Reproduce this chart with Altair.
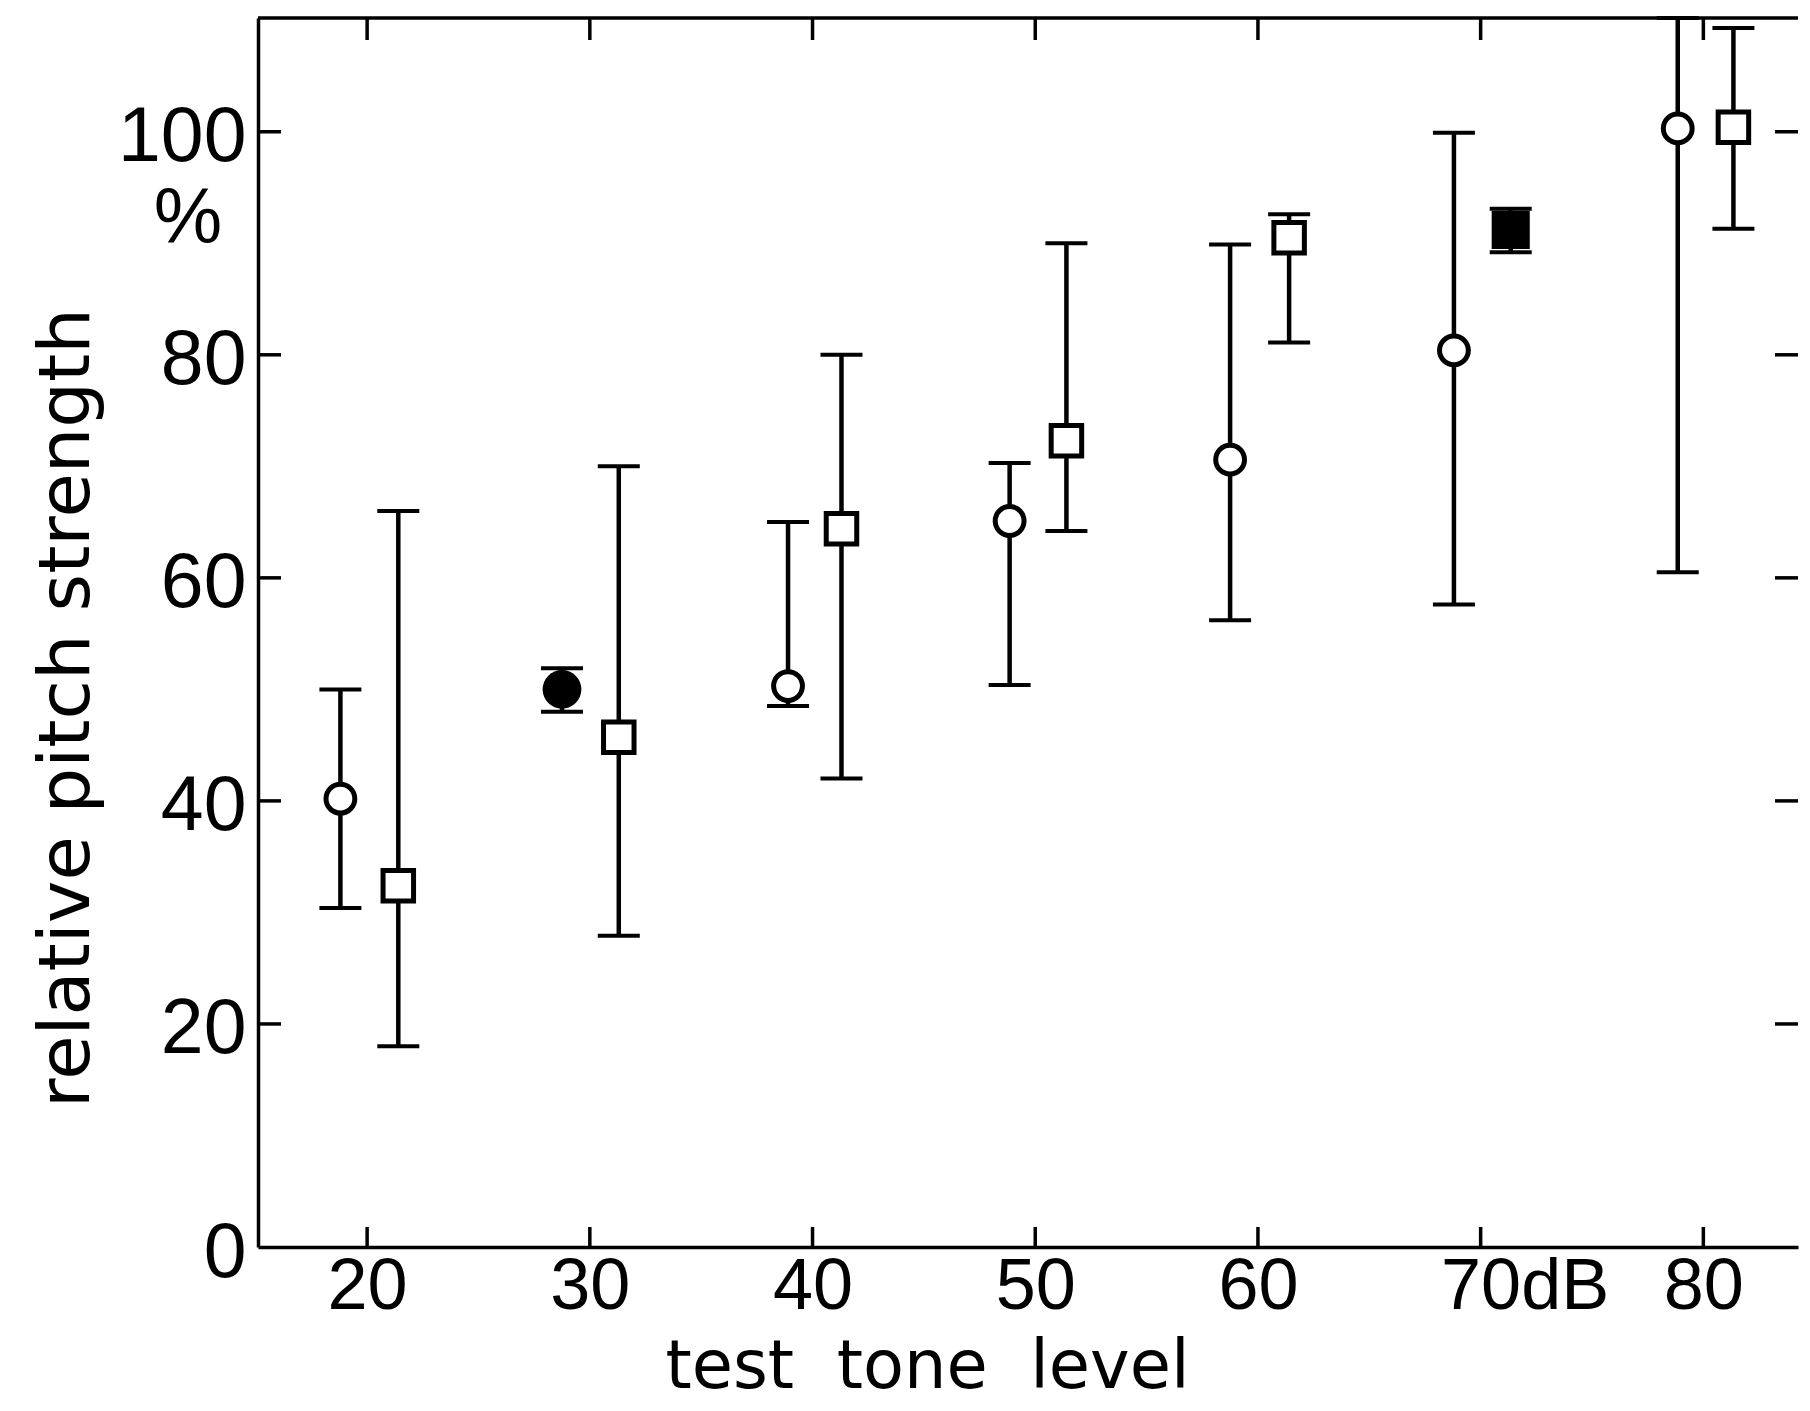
import altair as alt
import pandas as pd

# ---- data ----
# open circles
oc_level = [18.8, 38.9, 48.85, 58.75, 68.8, 78.85]
oc_value = [40.2, 50.3, 65.1, 70.6, 80.4, 100.3]
oc_lo = [30.4, 48.5, 50.4, 56.2, 57.6, 60.5]
oc_hi = [50.0, 65.0, 70.3, 89.9, 99.9, 110.2]
# open squares
os_level = [21.4, 31.3, 41.3, 51.4, 61.4, 81.35]
os_value = [32.4, 45.7, 64.4, 72.3, 90.5, 100.4]
os_lo = [18.0, 27.9, 42.0, 64.2, 81.1, 91.3]
os_hi = [66.0, 70.0, 80.0, 90.0, 92.6, 109.3]
# filled circle
fc_level = [28.75]
fc_value = [50.0]
fc_lo = [48.0]
fc_hi = [51.9]
# filled square
fs_level = [71.35]
fs_value = [91.2]
fs_lo = [89.2]
fs_hi = [93.1]

x_tick_values = [20, 30, 40, 50, 60, 70, 80]
y_tick_values = [0, 20, 40, 60, 80, 100]
y_inner_ticks = [20, 40, 60, 80, 100]
pct_text = ["%"]
pct_pos = [90]

W, H = 1540, 1229
BLACK = "#000000"
LABEL_FONT = "Liberation Sans"
TITLE_FONT = "DejaVu Sans"

def frame(level, value, lo, hi):
    return pd.DataFrame({"level": level, "value": value, "lo": lo, "hi": hi})

oc = frame(oc_level, oc_value, oc_lo, oc_hi)
osq = frame(os_level, os_value, os_lo, os_hi)
fc = frame(fc_level, fc_value, fc_lo, fc_hi)
fsq = frame(fs_level, fs_value, fs_lo, fs_hi)
bars = pd.concat([oc, osq, fc, fsq], ignore_index=True)

x_scale = alt.Scale(domain=[15.1, 84.25], nice=False, zero=False)
y_scale = alt.Scale(domain=[0, 110.2], nice=False, zero=False)

X_TITLE = "test\u00a0\u00a0tone\u00a0\u00a0level"
Y_TITLE = "relative pitch strength"

x_axis = alt.Axis(
    values=x_tick_values,
    labelExpr="datum.value == 70 ? '70dB' : datum.label",
    labelOffset={"condition": {"test": "datum.value == 70", "value": 44}, "value": 0},
    ticks=False, tickSize=0, grid=False,
    domain=True, domainColor=BLACK, domainWidth=3.5,
    labelFont=LABEL_FONT, labelFontSize=72, labelColor=BLACK, labelPadding=4,
    labelFlush=False, labelOverlap=False,
    title=X_TITLE, titleFont=TITLE_FONT, titleFontSize=67, titleFontWeight="normal",
    titleColor=BLACK, titleX=669, titleY=140, titleBaseline="alphabetic", titleAlign="center",
)
y_axis = alt.Axis(
    values=y_tick_values,
    ticks=False, tickSize=0, grid=False,
    domain=True, domainColor=BLACK, domainWidth=3.5,
    labelFont=LABEL_FONT, labelFontSize=77, labelColor=BLACK, labelPadding=12,
    labelBaseline="alphabetic", labelOffset=29, labelFlush=False, labelOverlap=False,
    title=Y_TITLE, titleFont=TITLE_FONT, titleFontSize=72, titleFontWeight="normal",
    titleColor=BLACK, titleAngle=270, titleX=-170, titleY=689.5,
    titleBaseline="alphabetic", titleAlign="center",
)

def X(field):
    return alt.X(field, type="quantitative", scale=x_scale, axis=x_axis, title=X_TITLE)

def Y(field):
    return alt.Y(field, type="quantitative", scale=y_scale, axis=y_axis, title=Y_TITLE)

err = alt.Chart(bars).mark_rule(color=BLACK, strokeWidth=4.5).encode(
    x=X("level"), y=Y("lo"), y2="hi:Q"
)
cap_lo = alt.Chart(bars).mark_tick(orient="horizontal", size=42, thickness=4, color=BLACK, opacity=1).encode(
    x=X("level"), y=Y("lo")
)
cap_hi = alt.Chart(bars).mark_tick(orient="horizontal", size=42, thickness=4, color=BLACK, opacity=1).encode(
    x=X("level"), y=Y("hi")
)
open_circles = alt.Chart(oc).mark_point(
    shape="circle", filled=True, fill="white", fillOpacity=1, stroke=BLACK,
    strokeWidth=5, size=830, opacity=1
).encode(x=X("level"), y=Y("value"))
open_squares = alt.Chart(osq).mark_point(
    shape="square", filled=True, fill="white", fillOpacity=1, stroke=BLACK,
    strokeWidth=5, size=930, opacity=1
).encode(x=X("level"), y=Y("value"))
filled_circle = alt.Chart(fc).mark_point(
    shape="circle", filled=True, fill=BLACK, fillOpacity=1, strokeWidth=0, size=1500, opacity=1
).encode(x=X("level"), y=Y("value"))
filled_square = alt.Chart(fsq).mark_point(
    shape="square", filled=True, fill=BLACK, fillOpacity=1, strokeWidth=0, size=1450, opacity=1
).encode(x=X("level"), y=Y("value"))

# inward tick marks on all four sides
yt = pd.DataFrame({"v": y_inner_ticks})
xt = pd.DataFrame({"v": x_tick_values})
left_ticks = alt.Chart(yt).mark_rule(color=BLACK, strokeWidth=3.5).encode(
    y=Y("v"), x=alt.value(0), x2=alt.value(23)
)
right_ticks = alt.Chart(yt).mark_rule(color=BLACK, strokeWidth=3.5).encode(
    y=Y("v"), x=alt.value(W - 23), x2=alt.value(W)
)
bottom_ticks = alt.Chart(xt).mark_rule(color=BLACK, strokeWidth=3.5).encode(
    x=X("v"), y=alt.value(H), y2=alt.value(H - 20)
)
top_ticks = alt.Chart(xt).mark_rule(color=BLACK, strokeWidth=3.5).encode(
    x=X("v"), y=alt.value(0), y2=alt.value(22)
)
top_line = alt.Chart(pd.DataFrame({"a": [0]})).mark_rule(color=BLACK, strokeWidth=3.5).encode(
    x=alt.value(0), x2=alt.value(W), y=alt.value(0)
)

pct = alt.Chart(pd.DataFrame({"t": pct_text, "v": pct_pos})).mark_text(
    font=LABEL_FONT, fontSize=77, align="center", baseline="alphabetic", color=BLACK
).encode(text="t:N", y=Y("v"), x=alt.value(-70))

chart = alt.layer(
    err, cap_lo, cap_hi, open_circles, open_squares, filled_circle, filled_square,
    left_ticks, right_ticks, bottom_ticks, top_ticks, top_line, pct
).properties(
    width=W, height=H,
    autosize=alt.AutoSizeParams(type="none"),
    padding={"left": 250, "top": 10, "right": 4, "bottom": 156},
    background="white",
).configure_view(strokeWidth=0)

chart.save("out.html", embed_options={"renderer": "svg", "actions": False})
